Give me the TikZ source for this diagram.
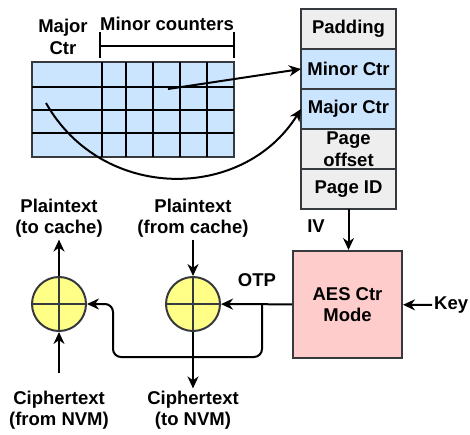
\documentclass[tikz,border=0pt]{standalone}
\usepackage{fontspec}
\setmainfont{Liberation Sans}
\usepackage{xcolor}
\usepackage{tikz}
\usetikzlibrary{calc, positioning, arrows.meta}
\definecolor{ctrblue}{HTML}{CCE5FF}
\definecolor{fieldgray}{HTML}{EEEEEE}
\definecolor{aespink}{HTML}{FFCCCC}
\definecolor{xoryellow}{HTML}{FFFF88}
\definecolor{edgegray}{HTML}{36393D}
\tikzset{
    txt/.style={font=\fontsize{18.5}{21.5}\selectfont\bfseries, align=center, inner sep=2pt},
    field/.style={rectangle, draw=edgegray, line width=2pt, fill=fieldgray, minimum width=95pt, minimum height=40pt, outer sep=0pt, txt},
    ctrfield/.style={field, fill=ctrblue},
    aesbox/.style={rectangle, draw=edgegray, line width=2pt, fill=aespink, minimum width=109pt, minimum height=107pt, txt},
    xor/.style={circle, draw=edgegray, line width=2pt, fill=xoryellow, inner sep=0pt, minimum size=54pt, path picture={\draw[edgegray, line width=2pt] (path picture bounding box.north) -- (path picture bounding box.south) (path picture bounding box.west) -- (path picture bounding box.east);}},
    arrow/.style={-{Stealth[length=12pt, width=11pt]}, line width=2pt},
    gridline/.style={line width=2pt}
}

\begin{document}
\begin{tikzpicture}[x=1pt, y=-1pt]
        \useasboundingbox (0,0) rectangle (470,434);

        % Counter block
        \node[rectangle, draw=edgegray, line width=2pt, fill=ctrblue, minimum width=202pt, minimum height=95pt] (ctrBlock) at (133,109.5) {};
        \foreach \x in {102,126,153,180,207}
            \draw[gridline] (\x,62) -- (\x,157);
        \foreach \y in {87,110,133}
            \draw[gridline] (32,\y) -- (234,\y);
        \node[txt] (majorLbl) at (63,37) {Major\\Ctr};
        \node[txt] (minorLbl) at (167,24) {Minor counters};
        \draw[gridline] (100,32) -- (100,58) (100,46) -- (234,46) (234,32) -- (234,58);
        \coordinate (minorCell) at (168,89);
        \coordinate (majorCell) at (46,103);

        % IV fields
        \node[field] (Padding) at (348.5,29) {Padding};
        \node[ctrfield, below=0pt of Padding] (MinorCtr) {Minor Ctr};
        \node[ctrfield, below=0pt of MinorCtr] (MajorCtr) {Major Ctr};
        \node[field, below=0pt of MajorCtr] (PageOff) {Page\\offset};
        \node[field, below=0pt of PageOff] (PageID) {Page ID};
        \node[txt] (IVLbl) at (316,226) {IV};

        % Encryption
        \node[aesbox] (AES) at (347.5,304.5) {AES Ctr\\Mode};
        \node[txt, anchor=west] (Key) at (432,305) {Key};
        \node[xor] (XorL) at (59,304) {};
        \node[xor] (XorR) at (193,304) {};
        \node[txt] (OTPLbl) at (257,280) {OTP};

        % Plain/cipher text
        \node[txt] (PtOut) at (59,218) {Plaintext\\(to cache)};
        \node[txt] (PtIn) at (193,218) {Plaintext\\(from cache)};
        \node[txt] (CtIn) at (59,410) {Ciphertext\\(from NVM)};
        \node[txt] (CtOut) at (193,410) {Ciphertext\\(to NVM)};

        % Connections
        \draw[arrow] (minorCell) -- (MinorCtr.west);
        \draw[arrow] (majorCell) .. controls (102,202) and (243,202) .. (MajorCtr.west);
        \draw[arrow] (PageID.south) -- (PageID.south |- AES.north);
        \draw[arrow] (Key) -- (AES);

        \coordinate (split) at (262,304);
        \coordinate (loopR) at (262,357);
        \coordinate (loopL) at (113,357);
        \draw[arrow] (AES) -- (XorR);
        \draw[arrow, rounded corners=8pt] (split) -- (loopR) -- (loopL) |- (XorL.east);

        \draw[arrow] (XorL) -- (PtOut);
        \draw[arrow] (PtIn) -- (XorR);
        \draw[arrow, shorten <=15pt] (CtIn) -- (XorL);
        \draw[arrow] (XorR) -- (CtOut);

    \end{tikzpicture}
\end{document}
